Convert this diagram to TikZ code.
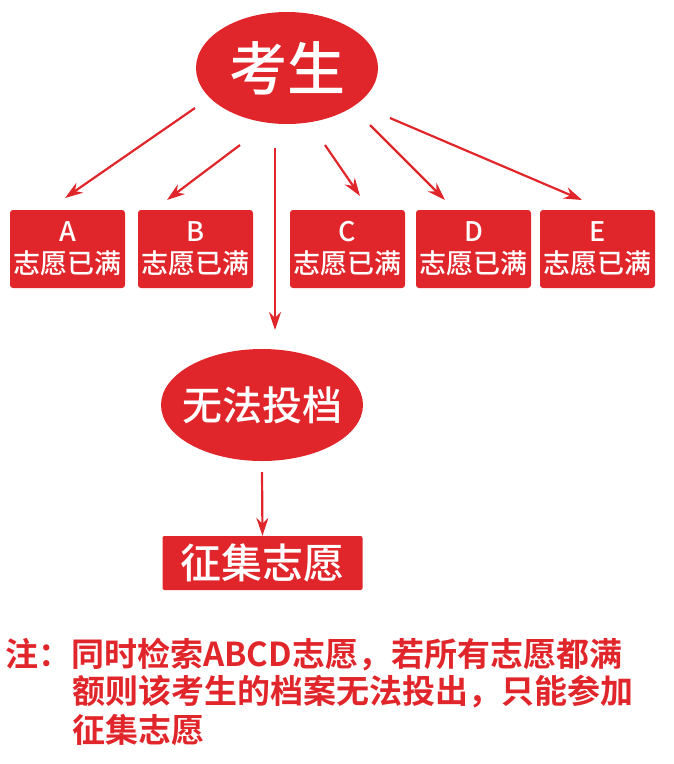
\documentclass[tikz,border=0pt]{standalone}
\usepackage{fontspec}
\newfontfamily\cjk{Noto Sans CJK SC Medium}
\newfontfamily\cjkb{Noto Sans CJK SC Bold}
\usetikzlibrary{shapes.geometric,arrows.meta}
\definecolor{hongse}{HTML}{E1262B}
\tikzset{
  oval/.style={ellipse, fill=hongse, text=white, font=\cjk\fontsize{58}{58}\selectfont, inner sep=0pt},
  fullbox/.style={rectangle, rounded corners=3pt, fill=hongse, text=white, font=\cjk\fontsize{27}{32}\selectfont, minimum width=115pt, minimum height=78pt, align=center, inner sep=0pt},
  jiantou/.style={draw=hongse, line width=2.2pt, -{Stealth[length=18pt,width=12pt]}},
  zhu/.style={anchor=west, text=hongse, font=\cjkb\fontsize{33}{33}\selectfont, inner sep=0pt}
}
\begin{document}
\begin{tikzpicture}[x=1pt,y=-1pt]
\useasboundingbox (0,0) rectangle (674,764);
\node [oval, minimum width=182pt, minimum height=112pt] (ks) at (287,68) {考生};
\node [fullbox] (a) at (67.5,249) {A\\志愿已满};
\node [fullbox] (b) at (195.5,249) {B\\志愿已满};
\node [fullbox] (c) at (347.5,249) {C\\志愿已满};
\node [fullbox] (d) at (473.5,249) {D\\志愿已满};
\node [fullbox] (e) at (597.5,249) {E\\志愿已满};
\node [oval, minimum width=202pt, minimum height=112pt] (wf) at (262,405) {};
\node [text=white, font=\cjk\fontsize{40}{40}\selectfont, inner sep=0pt] (wft) at (wf.center) {无法投档};
\node [fullbox, rounded corners=2pt, font=\cjk\fontsize{41}{41}\selectfont, minimum width=200pt, minimum height=54pt] (zj) at (262.5,563) {征集志愿};
\coordinate (ka) at (195,108);
\coordinate (kb) at (240,145);
\coordinate (kv) at (275,148);
\coordinate (kc) at (325,145);
\coordinate (kd) at (370,125);
\coordinate (ke) at (390,118);
\coordinate (wv) at (262,472);
\draw [jiantou] (ka) -- (65,198);
\draw [jiantou] (kb) -- (167,200);
\draw [jiantou] (kv) -- (275,330);
\draw [jiantou] (kc) -- (360,196);
\draw [jiantou] (kd) -- (445,200);
\draw [jiantou] (ke) -- (582,200);
\draw [jiantou] (wv) -- (zj.north);
\node [zhu] (n1) at (5,655) {注：同时检索ABCD志愿，若所有志愿都满};
\node [zhu] (n2) at (72,692) {额则该考生的档案无法投出，只能参加};
\node [zhu] (n3) at (72,730) {征集志愿};
\end{tikzpicture}
\end{document}
